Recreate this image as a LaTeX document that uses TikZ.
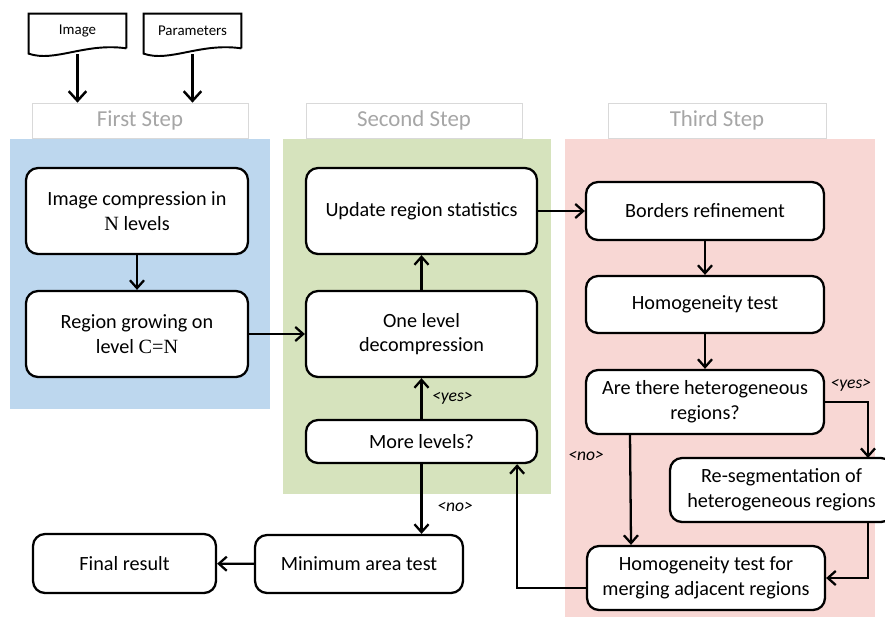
\documentclass[tikz,border=0pt]{standalone}
\usepackage{fontspec}
\setmainfont{Carlito}
\newfontfamily\serifN{Liberation Serif}
\usetikzlibrary{arrows.meta}

\definecolor{stepblue}{RGB}{189,215,238}
\definecolor{stepgreen}{RGB}{214,227,189}
\definecolor{stepred}{RGB}{248,215,212}
\definecolor{steptext}{RGB}{166,166,166}
\definecolor{stepline}{RGB}{217,217,217}

\begin{document}
\begin{tikzpicture}[
	  x=0.02cm, y=-0.02cm,
	  blk/.style={draw, line width=1.3pt, rounded corners=0.24cm, fill=white, align=center, inner sep=2pt, font=\fontsize{11.5}{14}\selectfont},
	  doc/.style={minimum width=1.94cm, minimum height=0.68cm, font=\fontsize{8.5}{10}\selectfont},
	  steplbl/.style={draw=stepline, fill=white, text=steptext, minimum height=0.7cm, font=\fontsize{13}{15}\selectfont},
	  arr/.style={-{Straight Barb[length=4.5pt,width=8pt]}, line width=1.3pt},
	  bigarr/.style={-{Straight Barb[length=5.5pt,width=10pt]}, line width=1.4pt},
	  ans/.style={font=\fontsize{10}{12}\selectfont\itshape},
	]

	\useasboundingbox (0,0) rectangle (885,616);

	\fill [stepblue] (10,139) rectangle (270,409);
	\fill [stepgreen] (283,139) rectangle (551,494);
	\fill [stepred] (565,139) rectangle (875,620);

	\node [steplbl, minimum width=4.32cm] (first) at (140,120.5) {First Step};
	\node [steplbl, minimum width=4.32cm] (second) at (414,120.5) {Second Step};
	\node [steplbl, minimum width=4.36cm] (third) at (717,120.5) {Third Step};

	\node [doc] (img) at (77.5,31) {Image};
	\node [doc] (par) at (192.5,31) {Parameters};
	\foreach \d in {img,par}
	  \draw [line width=1.1pt] (\d.south east) -- (\d.north east) -- (\d.north west) -- ++(0,40)
	    .. controls +(26,9) and +(-41,-6) .. (\d.south east);
	\draw [bigarr] (img.south) ++(0,6) -- (img.south |- first.north);
	\draw [bigarr] (par.south) ++(0,6) -- (par.south |- first.north);

	\node [blk, minimum width=4.44cm, minimum height=1.72cm] (comp) at (137,211) {Image compression in\\{\serifN N} levels};
	\node [blk, minimum width=4.44cm, minimum height=1.72cm] (grow) at (137,334) {Region growing on\\level {\serifN C=N}};

	\node [blk, minimum width=4.62cm, minimum height=1.72cm] (upd) at (421.5,211) {Update region statistics};
	\node [blk, minimum width=4.62cm, minimum height=1.72cm] (dec) at (421.5,334) {One level\\decompression};
	\node [blk, minimum width=4.62cm, minimum height=0.86cm] (more) at (421.5,441.5) {More levels?};

	\node [blk, minimum width=4.76cm, minimum height=1.16cm] (bord) at (705,211) {Borders refinement};
	\node [blk, minimum width=4.76cm, minimum height=1.14cm] (homo) at (705,304.5) {Homogeneity test};
	\node [blk, minimum width=4.76cm, minimum height=1.28cm] (hetq) at (705,402) {Are there heterogeneous\\regions?};
	\node [blk, minimum width=4.46cm, minimum height=1.28cm] (reseg) at (781.5,490) {Re-segmentation of\\heterogeneous regions};
	\node [blk, minimum width=4.76cm, minimum height=1.28cm] (merge) at (706,578) {Homogeneity test for\\merging adjacent regions};

	\node [blk, minimum width=4.16cm, minimum height=1.16cm] (mint) at (359,564) {Minimum area test};
	\node [blk, minimum width=3.66cm, minimum height=1.18cm] (final) at (124.5,563.5) {Final result};

	\draw [arr] (comp) -- (grow);
	\draw [arr] (grow) -- (dec);
	\draw [arr] (dec) -- (upd);
	\draw [arr] (more) -- node [ans, right=2pt] {<yes>} (dec);
	\draw [arr] (upd) -- (bord);
	\draw [arr] (bord) -- (homo);
	\draw [arr] (homo) -- (hetq);

	\coordinate (rs) at (868,458);
	\draw [arr] (hetq.east) -| node [ans, pos=0.3, above=2pt] {<yes>} (rs);
	\draw [arr] (rs |- reseg.south) |- (merge.east);
	\draw [arr] ([xshift=-1.5cm]hetq.south) -- node [ans, pos=0.19, left=11pt] {<no>} ([xshift=-1.5cm]merge.north);
	\draw [arr] ([yshift=-0.2cm]merge.west) -| ([xshift=-0.42cm]more.south east);
	\draw [arr] (more) -- node [ans, pos=0.62, right=5pt] {<no>} (more |- mint.north);
	\draw [arr] (mint) -- (final);
	\end{tikzpicture}
\end{document}
